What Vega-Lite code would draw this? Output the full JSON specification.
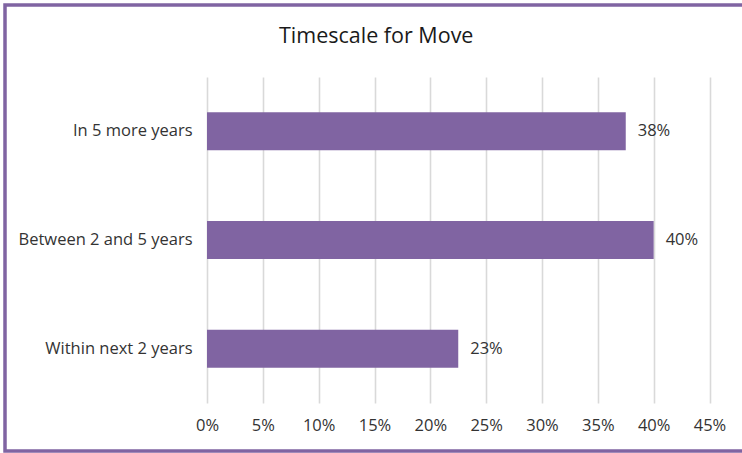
{
  "$schema": "https://vega.github.io/schema/vega-lite/v6.json",
  "autosize": "none",
  "width": 741,
  "height": 446,
  "padding": {"left": 5, "top": 5, "right": -4, "bottom": 2},
  "background": "white",
  "title": {
    "text": "Timescale for Move",
    "anchor": "start",
    "frame": "group",
    "font": "Open Sans",
    "fontSize": 21.5,
    "fontWeight": "normal",
    "color": "#1a1a1a",
    "offset": 0,
    "baseline": "alphabetic",
    "dy": 59,
    "dx": 274
  },
  "data": {
    "values": [
      {"category": "In 5 more years", "share": 0.375},
      {"category": "Between 2 and 5 years", "share": 0.4},
      {"category": "Within next 2 years", "share": 0.225}
    ]
  },
  "encoding": {
    "y": {
      "field": "category",
      "type": "nominal",
      "sort": null,
      "scale": {"range": [72, 398], "paddingInner": 0.65, "paddingOuter": 0.325},
      "axis": {
        "title": null,
        "domain": false,
        "ticks": false,
        "grid": false,
        "offset": -202,
        "labelPadding": 15,
        "labelFont": "Open Sans",
        "labelFontSize": 16.5,
        "labelColor": "#333333",
        "labelLimit": 400
      }
    }
  },
  "layer": [
    {
      "mark": {"type": "bar", "color": "#8064A2"},
      "encoding": {
        "x": {
          "field": "share",
          "type": "quantitative",
          "scale": {"domain": [0, 0.45], "range": [202, 704.5], "nice": false},
          "axis": {
            "orient": "bottom",
            "title": null,
            "format": ".0%",
            "values": [0, 0.05, 0.1, 0.15, 0.2, 0.25, 0.3, 0.35, 0.4, 0.45],
            "grid": false,
            "domain": false,
            "ticks": false,
            "tickSize": 0,
            "offset": -48,
            "labelPadding": 14,
            "labelFont": "Open Sans",
            "labelFontSize": 16.5,
            "labelColor": "#333333",
            "labelFlush": false,
            "labelOverlap": false
          }
        }
      }
    },
    {
      "mark": {"type": "text", "align": "left", "baseline": "middle", "dx": 12, "font": "Open Sans", "fontSize": 16.5, "color": "#333333"},
      "encoding": {
        "x": {
          "field": "share",
          "type": "quantitative",
          "axis": {
            "orient": "top",
            "title": null,
            "labels": false,
            "ticks": false,
            "domain": false,
            "grid": true,
            "gridColor": "#d9d9d9",
            "gridWidth": 1.6,
            "offset": 0,
            "values": [0, 0.05, 0.1, 0.15, 0.2, 0.25, 0.3, 0.35, 0.4, 0.45]
          }
        },
        "text": {"field": "share", "type": "quantitative", "format": ".0%"}
      }
    }
  ],
  "resolve": {"axis": {"x": "independent"}},
  "config": {
    "view": {"stroke": "#8064A2", "strokeWidth": 3.5}
  }
}
